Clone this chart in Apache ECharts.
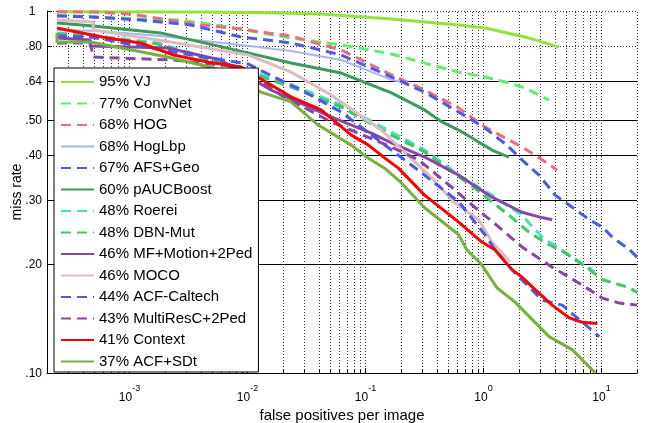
<!DOCTYPE html>
<html>
<head>
<meta charset="utf-8">
<script src="https://cdn.jsdelivr.net/npm/echarts@6.0.0/dist/echarts.min.js"></script>
<style>
html, body { margin: 0; padding: 0; background: #fff; }
#main { width: 645px; height: 423px; }
</style>
</head>
<body>
<div id="main"></div>
<script>
// axis range (log-log)
var xMin = 2e-4, xMax = 20;
var yMin = 0.1, yMax = 1;

// y tick positions and their labels
var yTicks = [0.1, 0.2, 0.3, 0.4, 0.5, 0.64, 0.8, 1];
var yTickLabels = ['.10', '.20', '.30', '.40', '.50', '.64', '.80', '1  '];
var ySolidGrid = [0.2, 0.3, 0.4, 0.5, 0.64];
var yDottedGrid = [0.8, 1];

// legend names, in legend order
var names = ['95% VJ', '77% ConvNet', '68% HOG', '68% HogLbp', '67% AFS+Geo', '60% pAUCBoost',
  '48% Roerei', '48% DBN-Mut', '46% MF+Motion+2Ped', '46% MOCO', '44% ACF-Caltech',
  '43% MultiResC+2Ped', '41% Context', '37% ACF+SDt'];
var colors = ['#92e23e', '#62ee6a', '#ec6e7e', '#a9b5f2', '#4b5ae8', '#3c9a5c',
  '#42e2c4', '#3fc862', '#8846a6', '#dcbcbe', '#4b58f0', '#8846a6', '#ff0000', '#76b03e'];
var dashed = [false, true, true, false, true, false, true, true, false, false, true, true, false, false];

// [false positives per image, miss rate]
var vjData = [[2.43e-4, .995], [4.0e-3, .994], [1.92e-2, .987], [4.2e-2, .981], [.166, .950],
  [.617, .915], [1.03, .898], [2.25, .848], [4.38, .795]];
var convNetData = [[2.43e-4, .975], [1.24e-3, .950], [2.71e-3, .944], [7.66e-3, .898], [2.34e-2, .842],
  [6.23e-2, .806], [.166, .761], [.317, .718], [.617, .678], [1.03, .657], [1.64, .633], [2.25, .613], [3.6, .567]];
var hogData = [[2.43e-4, .995], [4.93e-4, .994], [1.02e-3, .981], [4.01e-3, .915], [8.78e-3, .892],
  [1.49e-2, .870], [2.34e-2, .853], [6.23e-2, .780], [.166, .666], [.317, .605], [.617, .540],
  [1.03, .478], [2.12, .421], [2.96, .393], [4.21, .364]];
var hogLbpData = [[2.43e-4, .886], [5.65e-4, .881], [1.83e-3, .853], [8.78e-3, .806], [2.34e-2, .775],
  [6.23e-2, .732], [.166, .645], [.214, .636]];
var afsGeoData = [[2.43e-4, .969], [4.65e-4, .963], [1.24e-3, .944], [3.3e-3, .915], [8.78e-3, .848],
  [2.34e-2, .816], [6.23e-2, .756], [.166, .657], [.317, .597], [.617, .526], [1.03, .475], [1.58, .426],
  [2.12, .388], [2.96, .352], [4.05, .310], [5.65, .287], [7.89, .265], [10.2, .253], [12.4, .237],
  [17.3, .219], [20, .209]];
var pAUCData = [[2.43e-4, .927], [4.93e-4, .909], [1.83e-3, .870], [1.01e-2, .766], [2.34e-2, .718],
  [6.23e-2, .674], [.166, .594], [.317, .533], [.443, .494], [.617, .469], [1.18, .413], [1.64, .395]];
var roereiData = [[2.43e-4, .870], [4.65e-4, .858], [1.73e-3, .816], [1.01e-2, .687], [2.34e-2, .625],
  [6.23e-2, .550], [.166, .463], [.317, .413], [.617, .352], [1.18, .310], [2.12, .273], [3.14, .237],
  [5.65, .209], [8.69, .190]];
var dbnMutData = [[2.43e-4, .864], [4.65e-4, .853], [1.73e-3, .811], [1.01e-2, .678], [2.34e-2, .617],
  [6.23e-2, .543], [.166, .454], [.317, .408], [.844, .324], [1.64, .273], [2.43, .245], [3.33, .229],
  [4.92, .215], [7.89, .193], [10.2, .181], [17.3, .172], [20, .167]];
var mfMotionData = [[2.43e-4, .842], [4.65e-4, .832], [4.65e-4, .800], [2.1e-3, .790], [5.93e-3, .732],
  [1.58e-2, .605], [5.12e-2, .510], [.112, .460], [.166, .432], [.317, .395], [.617, .352], [1.18, .306],
  [2.12, .278], [2.96, .270], [3.82, .265]];
var mocoData = [[2.43e-4, .944], [4.93e-4, .932], [4.93e-4, .886], [2.23e-3, .821], [1.01e-2, .756],
  [2.34e-2, .678], [5.12e-2, .586], [.136, .469], [.364, .346], [.570, .295], [.913, .265], [1.18, .230],
  [1.68, .203]];
var acfCaltechData = [[2.43e-4, .853], [4.65e-4, .848], [2.36e-3, .770], [1.01e-2, .714], [1.68e-2, .657],
  [2.84e-2, .605], [6.23e-2, .526], [.166, .413], [.317, .352], [.617, .297], [1.03, .241], [1.25, .219],
  [1.85, .189], [3.14, .159], [4.65, .154], [7.29, .136], [9.59, .126]];
var multiResCData = [[2.43e-4, .816], [4.65e-4, .816], [4.93e-4, .746], [2.36e-3, .732], [8.78e-3, .700],
  [1.92e-2, .586], [5.12e-2, .494], [.166, .421], [.282, .388], [.538, .326], [.844, .287], [1.35, .253],
  [2.12, .223], [3.82, .196], [6.48, .177], [10.2, .161], [14.2, .156], [20, .154]];
var contextData = [[2.43e-4, .898], [6.48e-4, .842], [1.24e-3, .816], [2.36e-3, .756], [4.6e-3, .723],
  [8.78e-3, .700], [1.22e-2, .657], [2.34e-2, .579], [4.21e-2, .533], [7.58e-2, .454], [.106, .426],
  [.145, .393], [.190, .368], [.317, .310], [.617, .261], [.968, .230], [1.25, .219], [1.74, .193],
  [2.12, .184], [2.74, .170], [3.82, .154], [5.33, .142], [6.88, .138], [9.22, .137]];
var acfSDtData = [[2.43e-4, .870], [2.43e-4, .821], [4.65e-4, .821], [2.1e-3, .746], [5.18e-3, .696],
  [1.3e-2, .597], [2.34e-2, .561], [3.97e-2, .484], [7.58e-2, .426], [.102, .395], [.145, .368],
  [.202, .335], [.317, .286], [.617, .241], [.722, .219], [.968, .199], [1.30, .172], [1.85, .157],
  [3.6, .126], [5.65, .116], [8.87, .100]];

var seriesData = [vjData, convNetData, hogData, hogLbpData, afsGeoData, pAUCData, roereiData,
  dbnMutData, mfMotionData, mocoData, acfCaltechData, multiResCData, contextData, acfSDtData];

// vertical grid lines at 1..9 x 10^k inside the range
var xGrid = [];
[1e-4, 1e-3, 1e-2, 1e-1, 1, 10].forEach(function (d) {
  for (var k = 1; k <= 9; k++) {
    var v = k * d;
    if (v >= xMin * 0.999 && v <= xMax * 1.001) xGrid.push(v);
  }
});

var FONT = '"Liberation Sans", Arial, sans-serif';

function renderGrid(params, api) {
  var bl = api.coord([xMin, yMin]);
  var tr = api.coord([xMax, yMax]);
  var kids = [];
  xGrid.forEach(function (v) {
    var x = Math.round(api.coord([v, yMin])[0]) + 0.5;
    var lg = Math.log10(v);
    var major = Math.abs(lg - Math.round(lg)) < 1e-6;
    if (v > xMin * 1.001) {
      kids.push({ type: 'line', shape: { x1: x, y1: bl[1], x2: x, y2: tr[1] },
        style: { stroke: '#333', lineWidth: 1, lineDash: [1, 2] } });
    }
    kids.push({ type: 'line', shape: { x1: x, y1: bl[1], x2: x, y2: bl[1] - (major ? 5 : 3) },
      style: { stroke: '#000', lineWidth: 1 } });
  });
  ySolidGrid.forEach(function (v) {
    var y = Math.round(api.coord([xMin, v])[1]) + 0.5;
    kids.push({ type: 'line', shape: { x1: bl[0], y1: y, x2: tr[0], y2: y },
      style: { stroke: '#000', lineWidth: 1 } });
  });
  yDottedGrid.forEach(function (v) {
    var y = Math.round(api.coord([xMin, v])[1]) + 0.5;
    kids.push({ type: 'line', shape: { x1: bl[0], y1: y, x2: tr[0], y2: y },
      style: { stroke: '#333', lineWidth: 1, lineDash: [1, 2] } });
  });
  yTicks.forEach(function (v, i) {
    var y = Math.round(api.coord([xMin, v])[1]) + 0.5;
    kids.push({ type: 'line', shape: { x1: bl[0], y1: y, x2: bl[0] + 5, y2: y },
      style: { stroke: '#000', lineWidth: 1 } });
    kids.push({ type: 'text', x: bl[0] - 5, y: y,
      style: { text: yTickLabels[i], fill: '#000', font: '12px ' + FONT, align: 'right', verticalAlign: 'middle' } });
  });
  return { type: 'group', children: kids };
}

var series = [{
  type: 'custom',
  name: 'grid',
  silent: true,
  clip: false,
  z: 1,
  data: [[1, 0.5]],
  renderItem: renderGrid
}];
names.forEach(function (n, i) {
  series.push({
    type: 'line',
    name: n,
    data: seriesData[i],
    symbol: 'none',
    showSymbol: false,
    z: 2 + i * 0.01,
    lineStyle: { color: colors[i], width: i === 3 ? 2 : 3, type: dashed[i] ? [10, 6] : 'solid' },
    itemStyle: { color: colors[i] }
  });
});

var chart = echarts.init(document.getElementById('main'));
chart.setOption({
  animation: false,
  backgroundColor: '#fff',
  grid: { left: 47, top: 11, right: 8, bottom: 50, containLabel: false, outerBoundsMode: 'none' },
  xAxis: {
    type: 'log', logBase: 10, min: xMin, max: xMax,
    name: 'false positives per image', nameLocation: 'middle', nameGap: 30,
    nameTextStyle: { fontFamily: 'Liberation Sans', fontSize: 15, color: '#000' },
    axisLine: { onZero: false, lineStyle: { color: '#000', width: 1 } },
    axisTick: { show: false },
    splitLine: { show: false },
    axisLabel: {
      showMinLabel: false, showMaxLabel: false, margin: 11,
      formatter: function (v) { return '{b|10}{s|' + Math.round(Math.log10(v)) + '}'; },
      rich: {
        b: { fontFamily: 'Liberation Sans', fontSize: 12, color: '#000' },
        s: { fontFamily: 'Liberation Sans', fontSize: 9, color: '#000', padding: [0, 0, 18, 0] }
      }
    }
  },
  yAxis: {
    type: 'log', logBase: 10, min: yMin, max: yMax,
    name: 'miss rate', nameLocation: 'middle', nameGap: 23,
    nameTextStyle: { fontFamily: 'Liberation Sans', fontSize: 14, color: '#000' },
    axisLine: { onZero: false, lineStyle: { color: '#000', width: 1 } },
    axisTick: { show: false },
    splitLine: { show: false },
    axisLabel: { show: false }
  },
  legend: {
    orient: 'vertical', left: 54, top: 68,
    itemWidth: 33, itemHeight: 14, itemGap: 6.5,
    padding: [6.5, 6, 3, 6],
    backgroundColor: '#fff', borderColor: '#000', borderWidth: 1, borderRadius: 0,
    itemStyle: { opacity: 0 },
    textStyle: { fontFamily: 'Liberation Sans', fontSize: 15, color: '#000' },
    data: names
  },
  series: series
});
</script>
</body>
</html>
